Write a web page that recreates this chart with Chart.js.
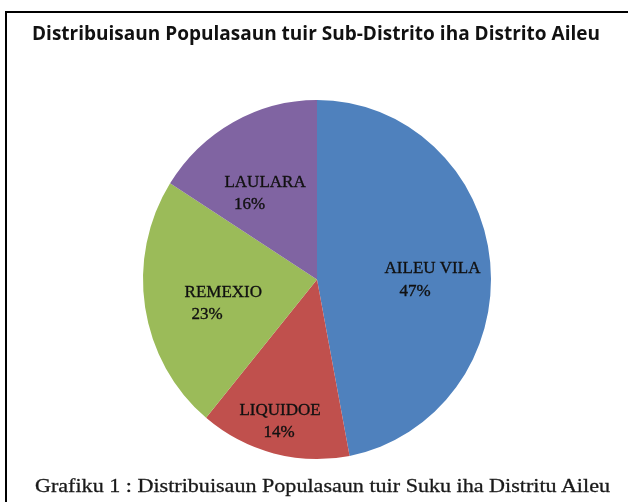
<!DOCTYPE html>
<html>
<head>
<meta charset="utf-8">
<script src="https://cdn.jsdelivr.net/npm/chart.js@4"></script>
<style>
  html, body { margin: 0; padding: 0; background: #fff; width: 628px; height: 502px; overflow: hidden; }
  #frame { position: absolute; left: 5px; top: 11px; width: 700px; height: 600px; border: 2.5px solid #000; box-sizing: border-box; }
  #wrap { position: absolute; left: 0; top: 0; width: 628px; height: 502px; }
  .txt { position: absolute; white-space: nowrap; line-height: 1; transform-origin: 0 0; }
  #title { font-family: "Open Sans", sans-serif; font-weight: 700; font-size: 19px; left: 32px; top: 24px; color: #111; }
  #caption { font-family: "Liberation Serif", serif; font-size: 19.5px; left: 35px; top: 476px; color: #1a1a1a; -webkit-text-stroke: 0.3px #1a1a1a; }
</style>
</head>
<body>
<div id="frame"></div>
<div id="wrap"><canvas id="c" width="628" height="502"></canvas></div>
<div id="title" class="txt">Distribuisaun Populasaun tuir Sub-Distrito iha Distrito Aileu</div>
<div id="caption" class="txt">Grafiku 1 : Distribuisaun Populasaun tuir Suku iha Distritu Aileu</div>
<script>
// ---- data ----
const categories = ['AILEU VILA', 'LIQUIDOE', 'REMEXIO', 'LAULARA'];
const percentages = [47, 14, 23, 16];

// ---- style ----
const sliceColors = ['#4F81BD', '#C0504D', '#9BBB59', '#8064A2'];
// per-label placement: radial factor, x offsets of line 1 / line 2, vertical shift, line gap
const labelStyle = [
  { f: 0.613, dx1: 9.3,  dx2: -8.2,  dy: 9.5,  gap: 22.5 },
  { f: 0.814, dx1: -1.8, dx2: -2.8,  dy: -0.6, gap: 22.5 },
  { f: 0.592, dx1: 8.0,  dx2: -8.3,  dy: 5.9,  gap: 22 },
  { f: 0.597, dx1: -1.9, dx2: -17.4, dy: 6.3,  gap: 22 }
];
const yStretch = 1.032;

function fitText(id, targetWidth) {
  const el = document.getElementById(id);
  el.style.transform = 'none';
  const w = el.getBoundingClientRect().width;
  el.style.transform = 'scaleX(' + (targetWidth / w) + ')';
}
function fitAll() {
  fitText('title', 568);
  fitText('caption', 575);
}
fitAll();
Promise.all([
  document.fonts.load('700 19px "Open Sans"'),
  document.fonts.load('19.5px "Liberation Serif"'),
  document.fonts.load('17px "Liberation Serif"')
]).then(() => document.fonts.ready).then(() => { fitAll(); if (window.pieChart) window.pieChart.draw(); });

const stretchPlugin = {
  id: 'stretch',
  beforeDatasetsDraw(chart) {
    const a = chart.getDatasetMeta(0).data[0];
    const ctx = chart.ctx;
    ctx.save();
    ctx.translate(a.x, a.y);
    ctx.scale(1, yStretch);
    ctx.translate(-a.x, -a.y);
  },
  afterDatasetsDraw(chart) {
    chart.ctx.restore();
  }
};

const labelPlugin = {
  id: 'sliceLabels',
  afterDraw(chart) {
    const ctx = chart.ctx;
    const meta = chart.getDatasetMeta(0);
    ctx.save();
    ctx.font = '17px "Liberation Serif", serif';
    ctx.fillStyle = '#111';
    ctx.strokeStyle = '#111';
    ctx.lineWidth = 0.35;
    ctx.textAlign = 'center';
    ctx.textBaseline = 'alphabetic';
    meta.data.forEach((arc, i) => {
      const p = arc.getProps(['x', 'y', 'startAngle', 'endAngle', 'outerRadius'], true);
      const mid = (p.startAngle + p.endAngle) / 2;
      const s = labelStyle[i];
      const d = p.outerRadius * s.f;
      const ax = p.x + Math.cos(mid) * d;
      const ay = p.y + Math.sin(mid) * d * yStretch + s.dy;
      const capHalf = 5.7;
      const l1 = [categories[i], ax + s.dx1, ay - s.gap / 2 + capHalf];
      const l2 = [percentages[i] + '%', ax + s.dx2, ay + s.gap / 2 + capHalf];
      [l1, l2].forEach(([t, x, y]) => { ctx.fillText(t, x, y); ctx.strokeText(t, x, y); });
    });
    ctx.restore();
  }
};

window.pieChart = new Chart(document.getElementById('c'), {
  type: 'pie',
  data: {
    labels: categories,
    datasets: [{
      data: percentages,
      backgroundColor: sliceColors,
      borderWidth: 0,
      clip: false
    }]
  },
  options: {
    responsive: false,
    devicePixelRatio: 1,
    animation: false,
    layout: { padding: { left: 143, right: 137, top: 105.5, bottom: 48.5 } },
    plugins: {
      legend: { display: false },
      title: { display: false },
      tooltip: { enabled: false }
    }
  },
  plugins: [stretchPlugin, labelPlugin]
});
</script>
</body>
</html>
